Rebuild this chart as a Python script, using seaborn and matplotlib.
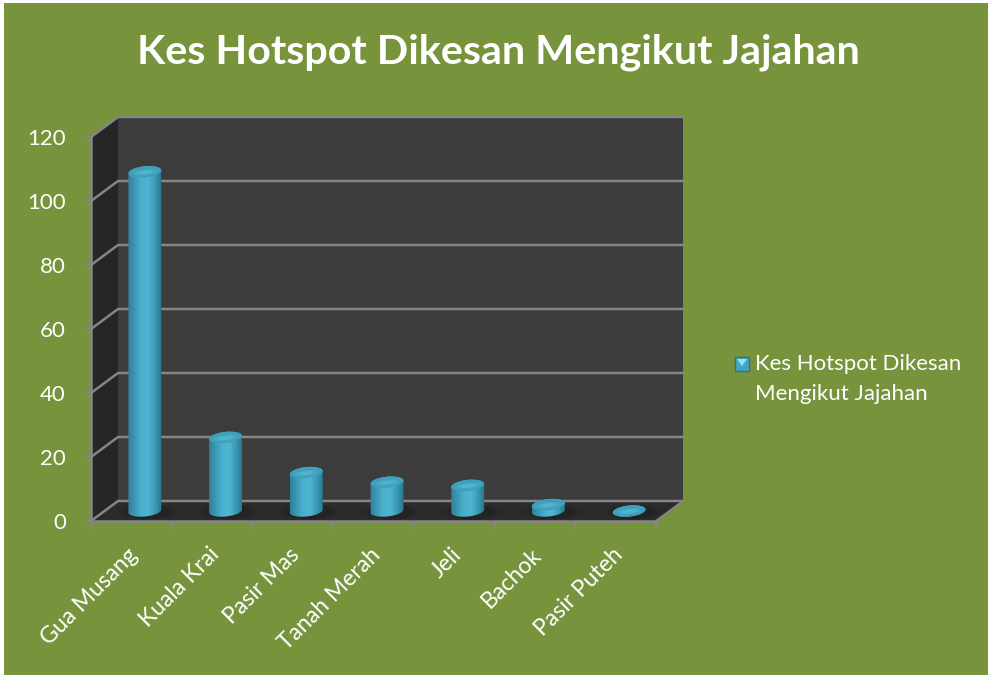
import numpy as np
import pandas as pd
import matplotlib
matplotlib.use('Agg')
import matplotlib.pyplot as plt
import seaborn as sns
from matplotlib.colors import LinearSegmentedColormap
from matplotlib.patches import Ellipse, Polygon, Rectangle
from matplotlib.path import Path
from matplotlib.transforms import Affine2D, IdentityTransform

jajahan = ['Gua Musang', 'Kuala Krai', 'Pasir Mas', 'Tanah Merah', 'Jeli', 'Bachok', 'Pasir Puteh']
kes = [106, 23, 12, 9, 8, 2, 0]
y_ticks = [0, 20, 40, 60, 80, 100, 120]
tajuk = 'Kes Hotspot Dikesan Mengikut Jajahan'
legend_label = 'Kes Hotspot Dikesan\nMengikut Jajahan'

W, H = 991, 677
GREEN = '#77933c'
GRID = '#868686'

sns.set_style('white')
plt.rcParams['font.family'] = ['Lato', 'DejaVu Sans']

fig = plt.figure(figsize=(W / 100, H / 100), dpi=100, facecolor='white')
fig.add_artist(Rectangle((4 / W, 2 / H), 984 / W, 672 / H, transform=fig.transFigure,
                         facecolor=GREEN, edgecolor='none', zorder=-5))
ax = fig.add_axes([91 / W, (H - 521) / H, 565 / W, 384 / H])
ax.patch.set_visible(False)

df = pd.DataFrame({'jajahan': jajahan, 'kes': kes})
sns.barplot(data=df, x='jajahan', y='kes', width=0.41, ax=ax)
ax.set_xlim(-0.5, 6.5)
ax.set_ylim(0, 120)
ax.set_xlabel('')
ax.set_ylabel('')
sns.despine(ax=ax, top=True, right=True, left=True, bottom=True)

back = ax.transData + Affine2D().translate(27, 20)
mid = ax.transData + Affine2D().translate(13.5, 10)
front = ax.transData


def shape(points, color, z):
    pts = [ax.transData.inverted().transform(p) for p in points]
    ax.add_patch(Polygon(pts, closed=True, facecolor=color, edgecolor='none', zorder=z, clip_on=False))


def px(tr, x, y):
    return tr.transform((x, y))


# walls and floor of the 3d box
shape([px(back, -0.5, 0), px(back, 6.5, 0), px(back, 6.5, 120), px(back, -0.5, 120)], '#3c3c3c', 0.5)
shape([px(front, -0.5, 0), px(back, -0.5, 0), px(back, -0.5, 120), px(front, -0.5, 120)], '#262626', 0.6)
shape([px(front, -0.5, 0), px(front, 6.5, 0), px(back, 6.5, 0), px(back, -0.5, 0)], '#2b2b2b', 0.6)

for t in y_ticks:
    a, b, c = px(front, -0.5, t), px(back, -0.5, t), px(back, 6.5, t)
    ax.plot(*zip(*[ax.transData.inverted().transform(p) for p in (a, b, c)]), color=GRID, lw=1.8,
            zorder=1, clip_on=False, solid_capstyle='butt')
ax.plot([-0.5, -0.5], [0, 120], color=GRID, lw=1.8, zorder=1.1, clip_on=False)
ax.plot([-0.5, 6.5], [0, 0], color=GRID, lw=1.8, zorder=1.1, clip_on=False)
d = px(front, 6.5, 0), px(back, 6.5, 0)
ax.plot(*zip(*[ax.transData.inverted().transform(p) for p in d]), color=GRID, lw=1.5, zorder=1, clip_on=False)

ax.set_yticks(y_ticks)
ax.set_xticks(np.arange(-0.5, 7, 1), minor=True)
ax.tick_params(axis='y', which='major', left=True, length=5, width=1.5, color=GRID,
               labelcolor='white', labelsize=16, pad=13)
ax.tick_params(axis='x', which='minor', bottom=True, length=6, width=1.5, color=GRID)
ax.tick_params(axis='x', which='major', bottom=False, labelbottom=False)

for i, name in enumerate(jajahan):
    ax.annotate(name, xy=(i, 0), xytext=(-4, -23), textcoords='offset pixels', color='white',
                fontsize=16.5, rotation=45, rotation_mode='anchor', ha='right', va='top',
                annotation_clip=False)

# cylinders, positions taken from the bars seaborn drew
cyl = LinearSegmentedColormap.from_list('cyl', ['#327f97', '#3c9bb6', '#4cb1cd', '#4eb4d0', '#3a9ab5', '#2b7489'])
grad = np.linspace(0, 1, 64).reshape(1, -1)
EH = 11
TILT = np.deg2rad(6)


def ellipse_xy(cx, cy, w, h, ts):
    xs = w / 2 * np.cos(ts)
    ys = h / 2 * np.sin(ts)
    return np.c_[cx + xs * np.cos(TILT) - ys * np.sin(TILT), cy + xs * np.sin(TILT) + ys * np.cos(TILT)]


for bar in list(ax.patches):
    if not isinstance(bar, Rectangle) or bar.get_width() > 1:
        continue
    x0, w, v = bar.get_x(), bar.get_width(), bar.get_height()
    bar.set_visible(False)
    lx, by = mid.transform((x0, 0))
    rx, ty = mid.transform((x0 + w, v))
    cx, pw = (lx + rx) / 2, rx - lx

    for k, alpha in zip([1.9, 1.6, 1.3], [0.1, 0.16, 0.24]):
        ax.add_patch(Ellipse((cx + 4, by - 1), pw * k, EH * 1.3, transform=IdentityTransform(),
                             facecolor='#1a1a1a', edgecolor='none', alpha=alpha, zorder=1.5, clip_on=False))

    low = ellipse_xy(cx, by, pw, EH, np.linspace(np.pi, 2 * np.pi, 40))
    up = ellipse_xy(cx, ty, pw, EH, np.linspace(0, np.pi, 40))
    outline = np.vstack([low, up, low[:1]])
    im = ax.imshow(grad, cmap=cyl, aspect='auto', zorder=2, interpolation='bilinear',
                   extent=(lx, rx, by - EH, ty + EH), transform=IdentityTransform())
    im.set_clip_path(Path(outline), IdentityTransform())
    ax.add_patch(Ellipse((cx, ty), pw, EH, angle=6, transform=IdentityTransform(),
                         facecolor='#3fa0bb', edgecolor='none', zorder=2.2, clip_on=False))
    for k, alpha in zip([0.7, 0.45], [0.25, 0.35]):
        ax.add_patch(Ellipse((cx, ty - 0.5), pw * k, EH * 0.5 * k + 1.5, angle=6, transform=IdentityTransform(),
                             facecolor='#62c6dd', edgecolor='none', alpha=alpha, zorder=2.3, clip_on=False))

ax.set_xlim(-0.5, 6.5)
ax.set_ylim(0, 120)

fig.text(498 / W, (H - 52) / H, tajuk, color='white', fontsize=29.7, fontweight='bold', ha='center', va='center')

# legend
leg_key = Rectangle((735 / W, (H - 371) / H), 14 / W, 14 / H, transform=fig.transFigure,
                    facecolor='#45a5c2', edgecolor='#2f7288', lw=1)
fig.add_artist(leg_key)
fig.add_artist(Polygon([(737 / W, (H - 359) / H), (747 / W, (H - 359) / H), (742 / W, (H - 366) / H)],
                       closed=True, transform=fig.transFigure, facecolor='#8fe3f5', edgecolor='none'))
fig.text(755 / W, (H - 379) / H, legend_label, color='white', fontsize=16, ha='left', va='center', linespacing=1.6)

fig.savefig('out.png', dpi=100, facecolor='white')
